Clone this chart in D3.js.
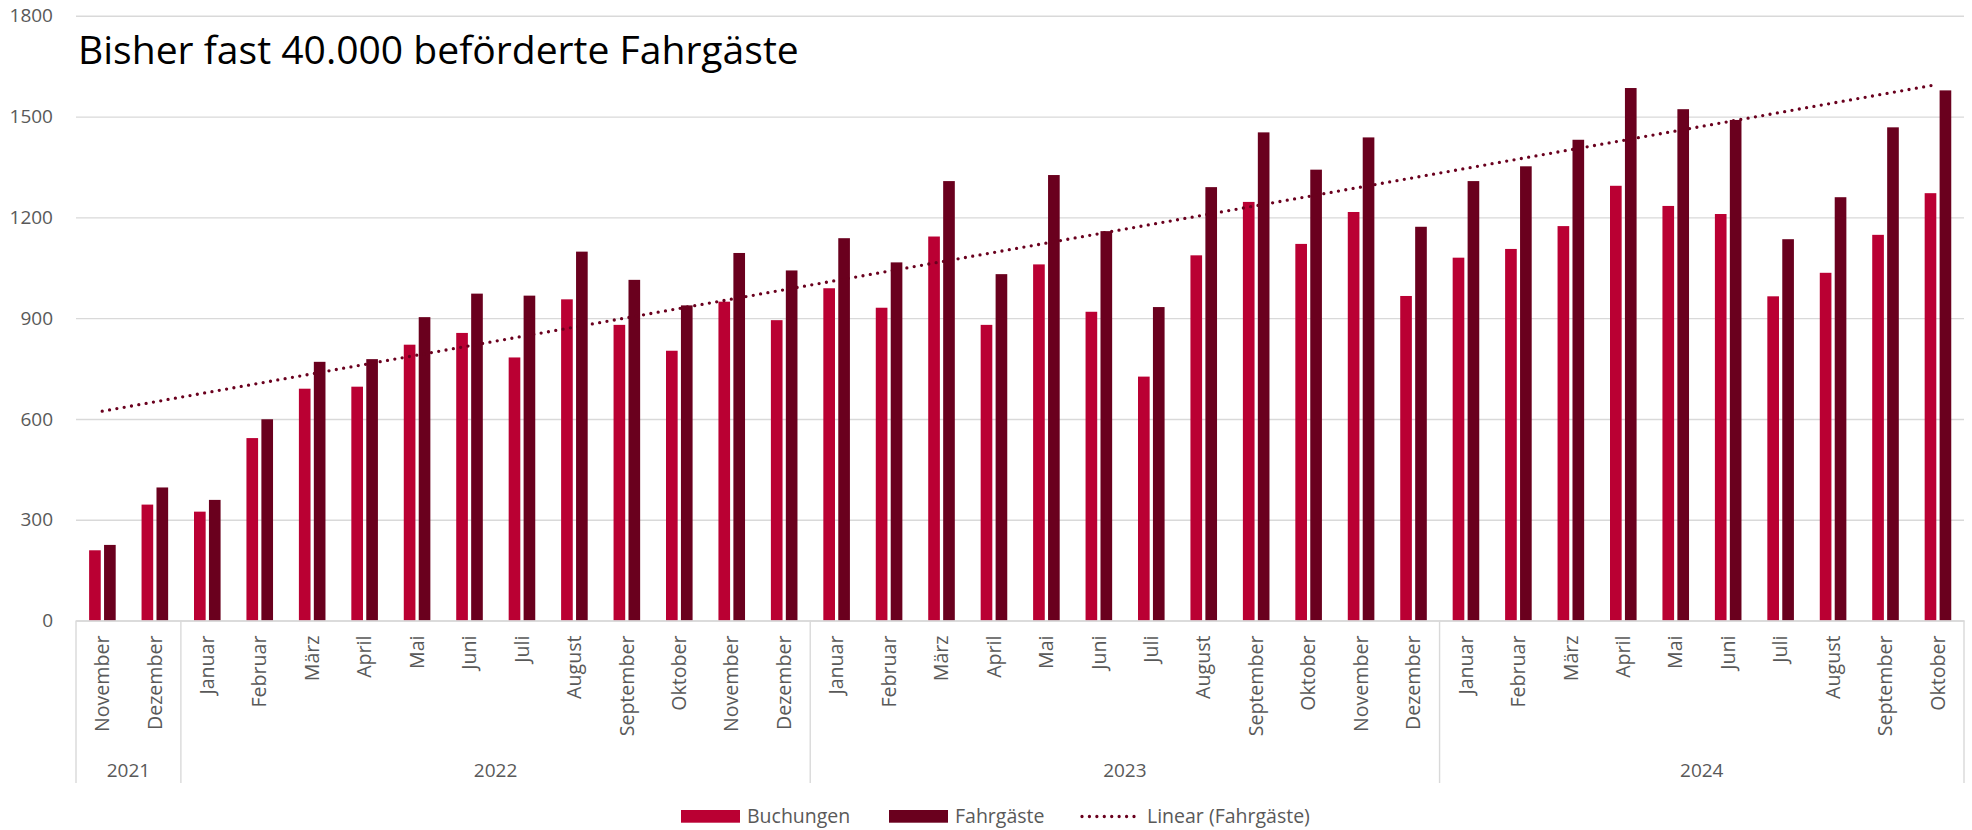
<!DOCTYPE html>
<html>
<head>
<meta charset="utf-8">
<script src="https://cdn.jsdelivr.net/npm/d3@7"></script>
<style>
  html, body { margin: 0; padding: 0; background: #fff; }
  svg { display: block; font-family: 'Open Sans', 'Noto Sans', sans-serif; }
</style>
</head>
<body>
<div id="app"></div>
<script>
const years = ['2021', '2022', '2023', '2024']
const monthsPerYear = [2, 12, 12, 10]
const months = [
  'November', 'Dezember',
  'Januar', 'Februar', 'März', 'April', 'Mai', 'Juni', 'Juli', 'August', 'September', 'Oktober', 'November', 'Dezember',
  'Januar', 'Februar', 'März', 'April', 'Mai', 'Juni', 'Juli', 'August', 'September', 'Oktober', 'November', 'Dezember',
  'Januar', 'Februar', 'März', 'April', 'Mai', 'Juni', 'Juli', 'August', 'September', 'Oktober'
]
const buchungen = [
  209, 345,
  324, 543, 690, 696, 821, 856, 783, 956, 880, 803, 949, 894,
  989, 931, 1143, 880, 1060, 919, 726, 1087, 1246, 1121, 1216, 966,
  1080, 1106, 1174, 1294, 1234, 1210, 965, 1035, 1148, 1272
]
const fahrgaeste = [
  225, 396,
  359, 599, 770, 778, 903, 973, 967, 1098, 1014, 938, 1094, 1042,
  1138, 1066, 1308, 1031, 1326, 1159, 933, 1290, 1453, 1342, 1438, 1172,
  1308, 1352, 1431, 1585, 1522, 1490, 1135, 1260, 1468, 1578
]
const series = ['Buchungen', 'Fahrgäste']
const yTicks = [0, 300, 600, 900, 1200, 1500, 1800]

const colors = { 'Buchungen': '#ba0033', 'Fahrgäste': '#6a001e' }
const grey = '#595959'

const w = 1972
const h = 830
const plotLeft = 76, plotRight = 1964, plotTop = 15.8, plotBottom = 620.5

// category keys, one per month
const keys = []
years.forEach((yr, i) => {
  let start = d3.sum(monthsPerYear.slice(0, i))
  for (let k = 0; k < monthsPerYear[i]; k++) keys.push(yr + '-' + (start + k))
})

const rows = keys.map((k, i) => ({ key: k, month: months[i], 'Buchungen': buchungen[i], 'Fahrgäste': fahrgaeste[i] }))

const x0 = d3.scaleBand().domain(keys).range([plotLeft, plotRight]).paddingInner(0).paddingOuter(0)
const bw = x0.bandwidth()
const x1 = d3.scaleBand().domain(series).range([bw * 0.25, bw * 0.757]).paddingInner(0.22)
const y = d3.scaleLinear().domain([0, 1800]).range([plotBottom, plotTop])

const svg = d3.select('#app').append('svg').attr('width', w).attr('height', h)

// gridlines + y labels
const yAxis = d3.axisLeft(y).tickValues(yTicks).tickSize(-(plotRight - plotLeft)).tickPadding(23).tickFormat(d3.format('d'))
const gy = svg.append('g').attr('transform', `translate(${plotLeft},0)`).call(yAxis)
gy.select('.domain').remove()
gy.selectAll('line').attr('stroke', '#d9d9d9').attr('stroke-width', 1.4)
gy.selectAll('text').attr('fill', grey).style('font-size', '19px').style('font-family', "'Open Sans', sans-serif")

// title
const title = svg.append('text')
  .attr('x', 78).attr('y', 64)
  .attr('fill', '#000')
  .style('font-size', '40px')
  .text('Bisher fast 40.000 beförderte Fahrgäste')
const tw = title.node().getComputedTextLength()
title.style('font-size', (40 * 721 / tw) + 'px')

// bars
svg.append('g').selectAll('g')
  .data(rows)
  .enter()
  .append('g')
  .attr('transform', d => `translate(${x0(d.key)},0)`)
  .selectAll('rect')
  .data(d => series.map(s => ({ s: s, v: d[s] })))
  .enter()
  .append('rect')
  .attr('x', d => x1(d.s))
  .attr('width', x1.bandwidth())
  .attr('y', d => y(d.v))
  .attr('height', d => y(0) - y(d.v))
  .attr('fill', d => colors[d.s])

// linear trend of Fahrgäste
const idx = d3.range(fahrgaeste.length)
const mx = d3.mean(idx), my = d3.mean(fahrgaeste)
const slope = d3.sum(idx, i => (i - mx) * (fahrgaeste[i] - my)) / d3.sum(idx, i => (i - mx) * (i - mx))
const icpt = my - slope * mx
const trend = [0, idx.length - 1].map(i => [x0(keys[i]) + bw / 2, y(icpt + slope * i)])

svg.append('path')
  .attr('d', d3.line()(trend))
  .attr('fill', 'none')
  .attr('stroke', colors['Fahrgäste'])
  .attr('stroke-width', 3.3)
  .attr('stroke-linecap', 'round')
  .attr('stroke-dasharray', '0 7.43')

// category axis
const xAxis = d3.axisBottom(x0).tickSize(0).tickFormat((d, i) => months[i])
const gx = svg.append('g').attr('transform', `translate(0,${plotBottom})`).call(xAxis)
gx.select('.domain').attr('stroke', '#d9d9d9').attr('stroke-width', 1.4)
gx.selectAll('text')
  .attr('transform', 'rotate(-90)')
  .attr('x', -15)
  .attr('y', 0)
  .attr('dy', '0.35em')
  .style('text-anchor', 'end')
  .style('font-size', '19.6px')
  .style('font-family', "'Open Sans', sans-serif")
  .attr('fill', grey)

// year groups
let bounds = [0]
monthsPerYear.forEach(c => bounds.push(bounds[bounds.length - 1] + c))
const bx = i => i < keys.length ? x0(keys[i]) : plotRight
svg.append('g').selectAll('line')
  .data(bounds)
  .enter()
  .append('line')
  .attr('x1', d => bx(d)).attr('x2', d => bx(d))
  .attr('y1', plotBottom).attr('y2', 783)
  .attr('stroke', '#d9d9d9').attr('stroke-width', 1.4)

svg.append('g').selectAll('text')
  .data(years)
  .enter()
  .append('text')
  .attr('x', (d, i) => (bx(bounds[i]) + bx(bounds[i + 1])) / 2)
  .attr('y', 777)
  .attr('text-anchor', 'middle')
  .attr('fill', grey)
  .style('font-size', '19px')
  .text(d => d)

// legend
const legend = svg.append('g').attr('id', 'legend')
legend.append('rect').attr('x', 681).attr('y', 810).attr('width', 59).attr('height', 12.7).attr('fill', colors['Buchungen'])
legend.append('text').attr('x', 747).attr('y', 823).attr('fill', grey).style('font-size', '19.5px').text('Buchungen')
legend.append('rect').attr('x', 889).attr('y', 810).attr('width', 59).attr('height', 12.7).attr('fill', colors['Fahrgäste'])
legend.append('text').attr('x', 955).attr('y', 823).attr('fill', grey).style('font-size', '19.5px').text('Fahrgäste')
legend.append('line')
  .attr('x1', 1082).attr('x2', 1138).attr('y1', 816.5).attr('y2', 816.5)
  .attr('stroke', colors['Fahrgäste']).attr('stroke-width', 3.3)
  .attr('stroke-linecap', 'round').attr('stroke-dasharray', '0 7.43')
legend.append('text').attr('x', 1147).attr('y', 823).attr('fill', grey).style('font-size', '19.5px').text('Linear (Fahrgäste)')
</script>
</body>
</html>
